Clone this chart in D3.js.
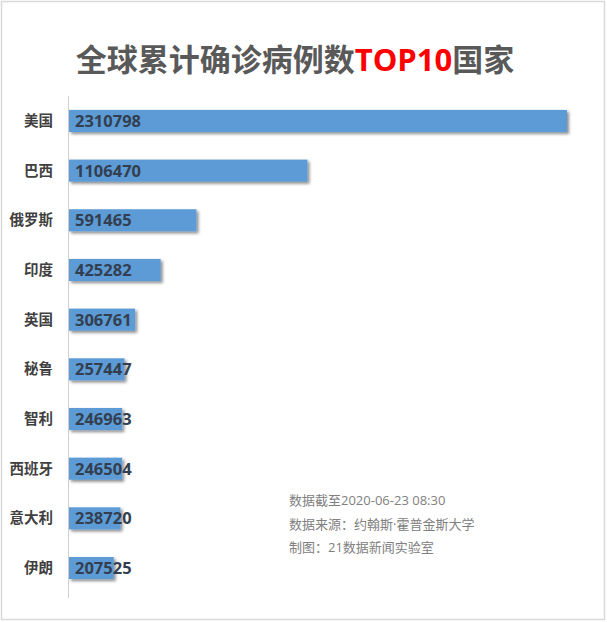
<!DOCTYPE html>
<html><head><meta charset="utf-8">
<script src="https://cdn.jsdelivr.net/npm/d3@7"></script>
<style>html,body{margin:0;padding:0;background:#fff;}svg{display:block;}</style>
</head><body>
<svg id="chart" width="607" height="622"></svg>
<script>
const categories = ["美国","巴西","俄罗斯","印度","英国","秘鲁","智利","西班牙","意大利","伊朗"];
const values = [2310798,1106470,591465,425282,306761,257447,246963,246504,238720,207525];
const titleMain = "全球累计确诊病例数";
const titleRed = "TOP10";
const titleEnd = "国家";
const notes = ["数据截至2020-06-23 08:30","数据来源：约翰斯·霍普金斯大学","制图：21数据新闻实验室"];

const svg = d3.select("#chart");
const font = "'Microsoft YaHei','Open Sans','Noto Sans CJK SC',sans-serif";

svg.append("rect").attr("x",1.5).attr("y",1.5).attr("width",603).attr("height",618)
  .attr("fill","#fff").attr("stroke","#d9d9d9").attr("stroke-width",1.5);

const defs = svg.append("defs");
const f = defs.append("filter").attr("id","sh").attr("x","-5%").attr("y","-20%").attr("width","115%").attr("height","160%");
f.append("feDropShadow").attr("dx",2).attr("dy",2).attr("stdDeviation",1.5).attr("flood-color","#000").attr("flood-opacity",0.45);

const x = d3.scaleLinear().domain([0, values[0]]).range([69, 567]);
const y = d3.scaleBand().domain(categories).range([96, 593]).paddingInner(0.555).paddingOuter(0.28);

const t = svg.append("text").attr("x",295).attr("y",71).attr("text-anchor","middle")
  .attr("font-family",font).attr("font-weight","bold").attr("font-size",31).attr("fill","#595959");
t.append("tspan").text(titleMain);
t.append("tspan").attr("fill","#ff0000").text(titleRed);
t.append("tspan").text(titleEnd);

svg.append("line").attr("x1",68.5).attr("x2",68.5).attr("y1",96).attr("y2",598)
  .attr("stroke","#d0d0d0").attr("stroke-width",1);

const data = categories.map((c,i)=>({c, v: values[i]}));

svg.selectAll("rect.bar").data(data).enter().append("rect").attr("class","bar")
  .attr("x", x(0)).attr("y", d=>y(d.c)).attr("width", d=>x(d.v)-x(0)).attr("height", y.bandwidth())
  .attr("fill","#5b9bd5").attr("filter","url(#sh)");

svg.selectAll("text.val").data(data).enter().append("text").attr("class","val")
  .attr("x", x(0)+6).attr("y", d=>y(d.c)+y.bandwidth()/2).attr("dy","0.36em")
  .attr("font-family",font).attr("font-weight","bold").attr("font-size",16.5).attr("fill","#333f50")
  .text(d=>d.v);

svg.selectAll("text.cat").data(data).enter().append("text").attr("class","cat")
  .attr("x", 53).attr("y", d=>y(d.c)+y.bandwidth()/2).attr("dy","0.35em").attr("text-anchor","end")
  .attr("font-family",font).attr("font-weight","bold").attr("font-size",14.5).attr("fill","#404040")
  .text(d=>d.c);

svg.selectAll("text.note").data(notes).enter().append("text").attr("class","note")
  .attr("x",289).attr("y",(d,i)=>505+i*23.5)
  .attr("font-family",font).attr("font-size",13).attr("fill","#808080").text(d=>d);
</script>
</body></html>
